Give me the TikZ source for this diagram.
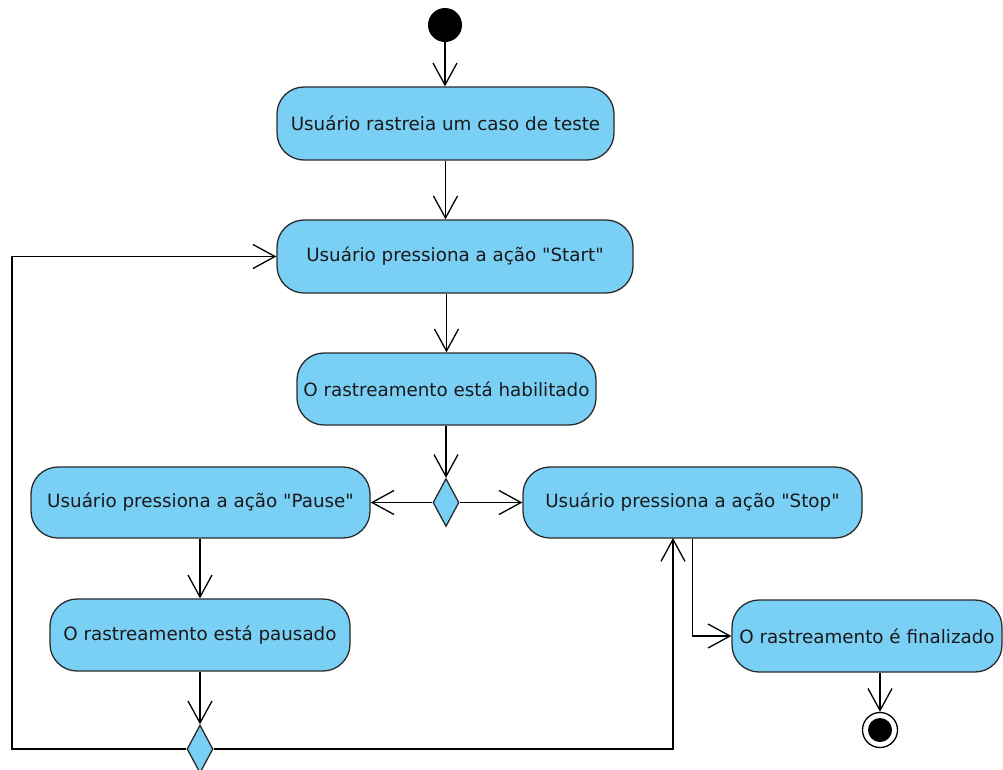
\documentclass[tikz,border=0pt]{standalone}
\usepackage{fontspec}
\setmainfont{DejaVu Sans}[Ligatures=TeXReset]
\usetikzlibrary{arrows.meta,shapes.geometric}
\definecolor{actfill}{HTML}{7ACFF5}
\definecolor{actline}{HTML}{2A2A2A}
\tikzset{
  activity/.style={draw=actline, fill=actfill, line width=1.3pt,
    rounded corners=27pt, inner sep=0pt, align=center, text=black!90,
    font=\fontsize{18.3}{21}\selectfont},
  decision/.style={diamond, draw=actline, fill=actfill, line width=1.3pt,
    inner sep=0pt, minimum width=26pt, minimum height=48pt},
  flow/.style={line width=1.3pt, draw=black,
    -{Straight Barb[length=22pt,width=24pt,line width=1.3pt]}}
}
\begin{document}
\begin{tikzpicture}[x=1pt,y=-1pt]
  \useasboundingbox (0,0) rectangle (1003,769);
  \fill[white] (0,0) rectangle (1003,769);

  % start and end states
  \node[circle, fill=black, inner sep=0pt, minimum size=34pt] (init) at (445,25) {};
  \node[circle, draw=black, line width=1.3pt, fill=white, inner sep=0pt, minimum size=35pt] (final) at (880,730) {};
  \node[circle, fill=black, inner sep=0pt, minimum size=24pt] (finalcore) at (final) {};

  % activities
  \node[activity, minimum width=337pt, minimum height=73pt] (a1) at (445.5,123.5) {Usuário rastreia um caso de teste};
  \node[activity, minimum width=356pt, minimum height=73pt] (a2) at (455,256.5) {Usuário pressiona a ação "Start"};
  \node[activity, minimum width=299pt, minimum height=72pt] (a3) at (446.5,389) {O rastreamento está habilitado};
  \node[activity, minimum width=339pt, minimum height=71pt] (a4) at (200.5,502.5) {Usuário pressiona a ação "Pause"};
  \node[activity, minimum width=339pt, minimum height=71pt] (a5) at (692.5,502.5) {Usuário pressiona a ação "Stop"};
  \node[activity, minimum width=300pt, minimum height=72pt] (a6) at (200,635) {O rastreamento está pausado};
  \node[activity, minimum width=270pt, minimum height=72pt] (a7) at (867,636) {O rastreamento é finalizado};

  % decisions
  \node[decision] (d1) at (446,502.5) {};
  \node[decision] (d2) at (200,749) {};

  % loop corners
  \coordinate (lc) at (12,256.5);
  \coordinate (rc) at (673,538);

  % flows
  \draw[flow] (init.south) -- (init.south |- a1.north);
  \draw[flow] (a1.south) -- (a1.south |- a2.north);
  \draw[flow] (a3.north |- a2.south) -- (a3.north);
  \draw[flow] (d1.north |- a3.south) -- (d1.north);
  \draw[flow] (d1.west) -- (a4.east);
  \draw[flow] (d1.east) -- (a5.west);
  \draw[flow] (a6.north |- a4.south) -- (a6.north);
  \draw[flow] (a6.south) -- (d2.north);
  \draw[flow] (d2.west) -| (lc) -- (a2.west);
  \draw[flow] (d2.east) -| (rc);
  \draw[flow] (a5.south) |- (a7.west);
  \draw[flow] (final.north |- a7.south) -- (final.north);
\end{tikzpicture}
\end{document}
